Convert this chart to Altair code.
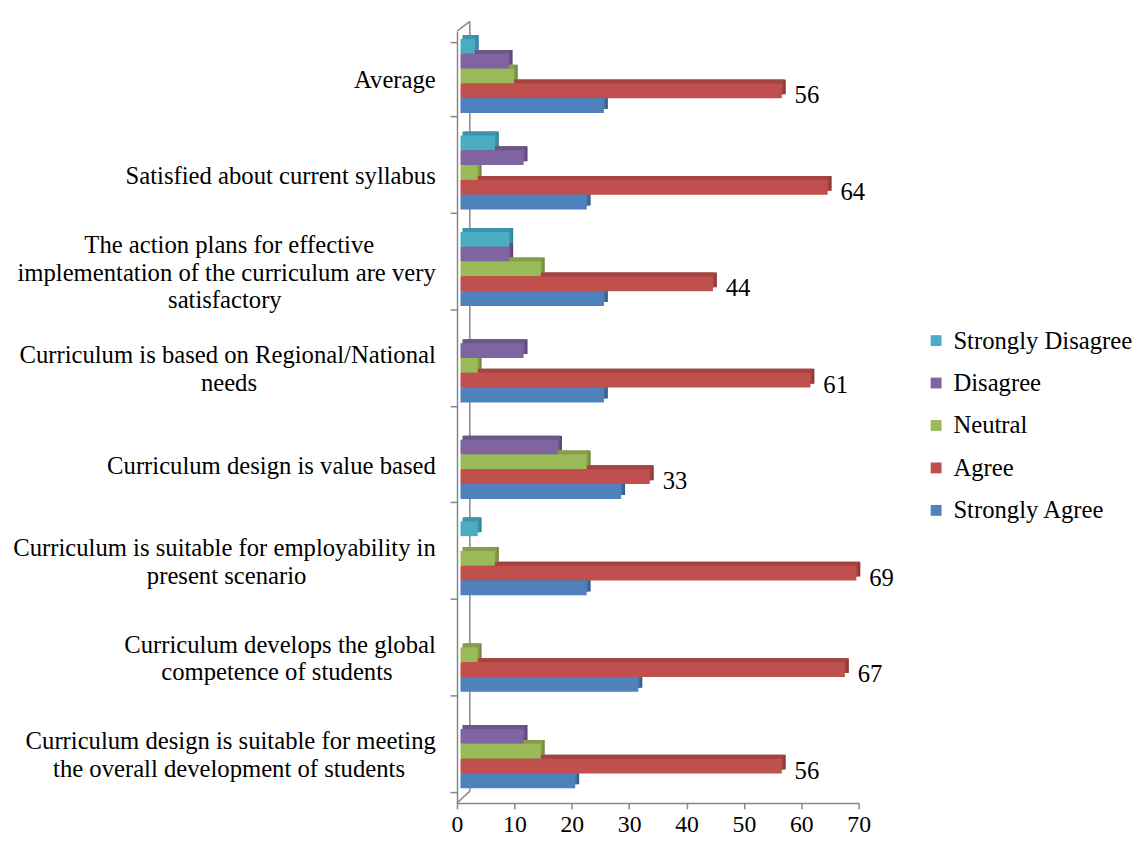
import altair as alt
import pandas as pd

# Categories, top to bottom, each as the lines it is printed on
CATEGORY_LINES = [
    ["Average"],
    ["Satisfied about current syllabus"],
    ["The action plans for effective", "implementation of the curriculum are very", "satisfactory"],
    ["Curriculum is based on Regional/National", "needs"],
    ["Curriculum design is value based"],
    ["Curriculum is suitable for employability in", "present scenario"],
    ["Curriculum develops the global", "competence of students"],
    ["Curriculum design is suitable for meeting", "the overall development of students"],
]
CATEGORIES = [" ".join(l) for l in CATEGORY_LINES]

SERIES = ["Strongly Disagree", "Disagree", "Neutral", "Agree", "Strongly Agree"]
STRONGLY_AGREE = [25, 22, 25, 25, 28, 22, 31, 20]
AGREE = [56, 64, 44, 61, 33, 69, 67, 56]
NEUTRAL = [9.3, 3, 14, 3, 22, 6, 3, 14]
DISAGREE = [8.4, 11, 8.5, 11, 17, 0, 0, 11]
STRONGLY_DISAGREE = [2.5, 6, 8.5, 0, 0, 3, 0, 0]
X_TICKS = [0, 10, 20, 30, 40, 50, 60, 70]

COLORS = ["#4BACC6", "#8064A2", "#9BBB59", "#C0504D", "#4F81BD"]
TOP_COLORS = ["#4092A8", "#6D558A", "#849F4C", "#A34441", "#436EA1"]
SIDE_COLORS = ["#31859C", "#5C4776", "#71893F", "#8C3836", "#385D8A"]

FONT = "Liberation Serif"
LINE_H = 28

series_values = {
    "Strongly Agree": STRONGLY_AGREE,
    "Agree": AGREE,
    "Neutral": NEUTRAL,
    "Disagree": DISAGREE,
    "Strongly Disagree": STRONGLY_DISAGREE,
}
rows = []
for s in SERIES:
    for c, v in zip(CATEGORIES, series_values[s]):
        rows.append({"category": c, "series": s, "value": v})
df = pd.DataFrame(rows)

# approximate Times advance widths (1/1000 em) to centre the lines of a label
TW = {" ": 250, "/": 278, "a": 444, "b": 500, "c": 444, "d": 500, "e": 444, "f": 333,
      "g": 500, "h": 500, "i": 278, "j": 278, "k": 500, "l": 278, "m": 778, "n": 500,
      "o": 500, "p": 500, "q": 500, "r": 333, "s": 389, "t": 278, "u": 500, "v": 500,
      "w": 722, "x": 500, "y": 500, "z": 444, "A": 722, "C": 667, "N": 722, "R": 667,
      "S": 556, "T": 611}


def tw(s):
    return sum(TW.get(ch, 500) for ch in s)


def centred(lines):
    W = max(tw(l) for l in lines)
    out = []
    for l in lines:
        n = int(round((W - tw(l)) / 2 / 250))
        # trailing no-break spaces, closed by a zero-width space so they are not trimmed
        out.append(l + ("\u00a0" * n + "\u200b" if n > 0 else ""))
    return out


expr = "datum.label"
for c, lines in reversed(list(zip(CATEGORIES, CATEGORY_LINES))):
    arr = "[" + ", ".join("'" + l + "'" for l in centred(lines)) + "]"
    expr = f"datum.label == '{c}' ? {arr} : ({expr})"

# vertically centre multi-line labels on their band
offset_conditions = [
    {"test": f"datum.value == '{c}'", "value": -(len(lines) - 1) * LINE_H / 2}
    for c, lines in zip(CATEGORIES, CATEGORY_LINES) if len(lines) > 1
]

H = 782
W = 407
STEP = H / 8
BW = 75
PI = 1 - BW / STEP
LIFT = 3.5   # 3-D perspective lift of the bars
DEPTH = 4    # 3-D depth of the bars

y_enc = alt.Y(
    "category:N",
    sort=CATEGORIES,
    scale=alt.Scale(domain=CATEGORIES, paddingInner=PI, paddingOuter=PI / 2),
    axis=alt.Axis(
        title=None,
        labelExpr=expr,
        labelFont=FONT,
        labelFontSize=25,
        labelColor="black",
        labelLineHeight=LINE_H,
        labelOffset={"condition": offset_conditions, "value": 0},
        labelPadding=15,
        labelLimit=1000,
        tickSize=7,
        tickColor="#868686",
        domainColor="#868686",
        domainWidth=1.5,
        tickWidth=1.5,
        tickBand="extent",
    ),
)
x_scale = alt.Scale(domain=[0, 70], nice=False)
x_enc = alt.X(
    "value:Q",
    scale=x_scale,
    axis=alt.Axis(
        title=None,
        values=X_TICKS,
        labelFont=FONT,
        labelFontSize=24,
        labelColor="black",
        labelPadding=4,
        labelFlush=False,
        tickSize=6,
        tickColor="#868686",
        domainColor="#868686",
        domainWidth=1.5,
        tickWidth=1.5,
        grid=False,
    ),
)


def off(shift):
    return alt.YOffset("series:N", sort=SERIES,
                       scale=alt.Scale(domain=SERIES, range=[-LIFT - shift, BW - LIFT - shift],
                                       paddingInner=0, paddingOuter=0))


base = alt.Chart(df)

# right-hand side face (darkest)
side = base.mark_bar(xOffset=3.5 + DEPTH, x2Offset=3.5).encode(
    x=x_enc,
    y=y_enc,
    yOffset=off(DEPTH),
    color=alt.Color("series:N", scale=alt.Scale(domain=SERIES, range=SIDE_COLORS), legend=None),
)

# top face
top = base.mark_bar(xOffset=3.5 + DEPTH / 2, x2Offset=3.5 + DEPTH / 2).encode(
    x=x_enc,
    y=y_enc,
    yOffset=off(DEPTH),
    stroke=alt.value(None),
    opacity=alt.value(1),
    fill=alt.Fill("series:N", scale=alt.Scale(domain=SERIES, range=TOP_COLORS), legend=None),
)

front = base.mark_bar(xOffset=3.5, x2Offset=3.5).encode(
    x=x_enc,
    y=y_enc,
    yOffset=off(0),
    fill=alt.Fill(
        "series:N",
        scale=alt.Scale(domain=SERIES, range=COLORS),
        legend=alt.Legend(
            title=None,
            orient="none",
            legendX=473,
            legendY=301,
            labelFont=FONT,
            labelFontSize=25,
            labelColor="black",
            symbolType="square",
            symbolSize=121,
            symbolStrokeWidth=0,
            rowPadding=17,
            labelOffset=5,
            padding=0,
            labelLimit=400,
        ),
    ),
)

labels = base.transform_filter(alt.datum.series == "Agree").mark_text(
    align="left", baseline="middle", dx=16.5, dy=1, font=FONT, fontSize=25, color="black"
).encode(
    x=x_enc,
    y=y_enc,
    yOffset=off(0),
    text=alt.Text("value:Q", format=".0f"),
)

deco = alt.Data(values=[{"k": 1}])
wall_color = "#868686"
back_wall = alt.Chart(deco).mark_rule(color=wall_color, strokeWidth=1.5).encode(
    x=alt.value(13), y=alt.value(-10), y2=alt.value(H - 12)
)
top_edge = alt.Chart(deco).mark_rule(color=wall_color, strokeWidth=1.5).encode(
    x=alt.value(0), x2=alt.value(13), y=alt.value(0), y2=alt.value(-10)
)
bottom_edge = alt.Chart(deco).mark_rule(color=wall_color, strokeWidth=1.5).encode(
    x=alt.value(0), x2=alt.value(13), y=alt.value(H), y2=alt.value(H - 12)
)

chart = (
    alt.layer(back_wall, top_edge, bottom_edge, side, top, front, labels)
    .resolve_scale(yOffset="independent", color="independent", fill="independent")
    .properties(width=W, height=H, padding={"left": 4, "top": 6, "right": 0, "bottom": 0},
                background="white")
    .configure_view(stroke=None)
)

chart.save("out.html", embed_options={"renderer": "svg", "actions": False})
